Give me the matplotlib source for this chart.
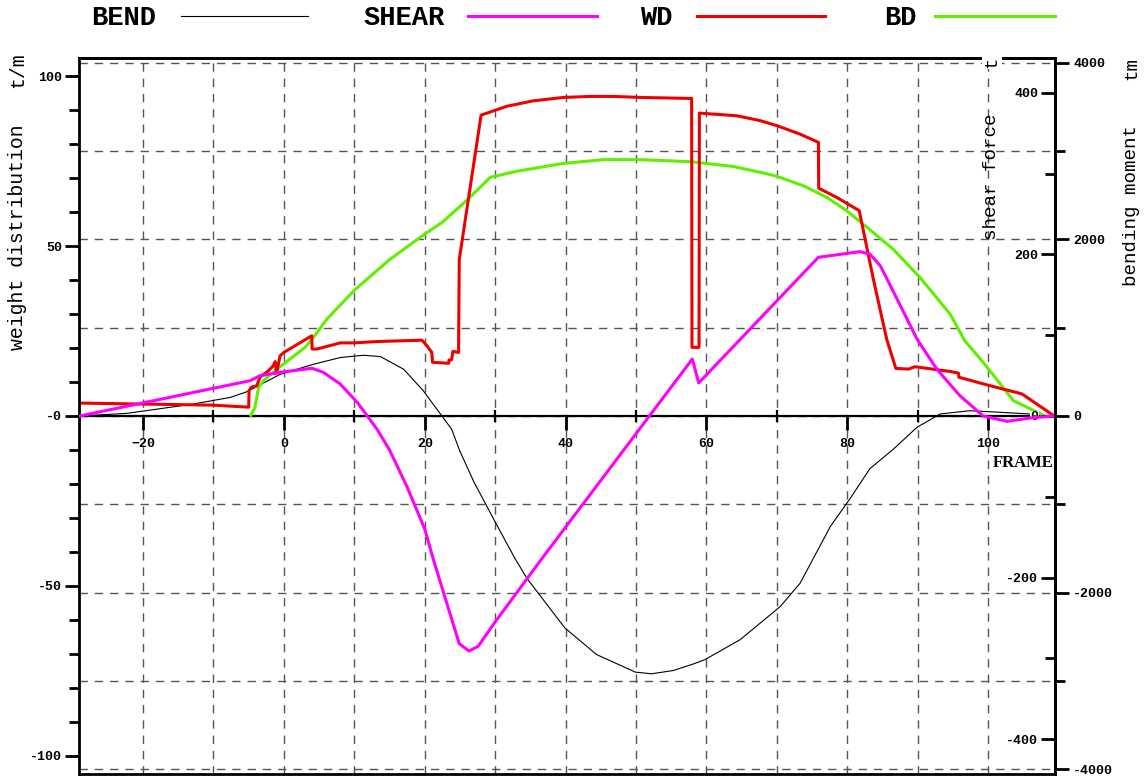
import matplotlib
matplotlib.use('Agg')
import matplotlib.pyplot as plt
from matplotlib.lines import Line2D
from matplotlib.ticker import MultipleLocator, FuncFormatter

# frame positions and values
wd_f = [-29.0, -10.2, -5.0, -4.95, -4.6, -3.85, -3.4, -2.2, -1.5, -1.25,
        -1.05, -0.55, 0.0, 3.95, 4.0, 4.7, 8.0, 9.9, 13.2, 19.6,
        20.3, 21.0, 21.1, 23.4, 23.45, 23.8, 24.0, 24.8, 24.9, 28.0,
        31.65, 35.4, 39.7, 43.5, 46.8, 50.6, 57.9, 57.95, 58.95, 59.0,
        64.3, 67.6, 70.0, 73.3, 75.9, 75.95, 78.5, 81.7, 83.7, 85.6,
        86.9, 88.7, 89.6, 94.6, 95.8, 95.85, 100.3, 104.8, 109.4]
wd_v = [3.8, 3.2, 2.6, 7.5, 8.5, 8.9, 11.4, 13.3, 14.8, 16.0,
        12.5, 17.7, 18.7, 23.6, 19.7, 19.7, 21.5, 21.5, 21.9, 22.3,
        20.7, 18.7, 15.8, 15.5, 16.5, 16.5, 19.0, 18.7, 46.0, 88.5,
        91.1, 92.7, 93.7, 94.0, 94.0, 93.7, 93.4, 20.2, 20.2, 89.1,
        88.3, 86.9, 85.4, 82.9, 80.5, 67.0, 64.3, 60.4, 40.3, 22.6,
        14.0, 13.8, 14.5, 13.1, 12.6, 11.4, 8.9, 6.5, 0.0]

bd_f = [-4.7, -4.1, -3.6, -2.9, -1.0, 0.9, 3.0, 4.0, 6.1, 10.0,
        15.0, 20.0, 22.5, 26.0, 29.3, 33.1, 39.7, 45.4, 50.6, 57.7,
        63.8, 67.6, 70.0, 73.8, 77.1, 79.9, 82.8, 86.5, 90.3, 94.6,
        96.7, 99.3, 103.6, 108.1]
bd_v = [0.2, 2.6, 8.4, 10.4, 13.8, 16.8, 20.2, 22.6, 28.5, 37.0,
        46.0, 53.5, 57.0, 63.5, 70.2, 72.0, 74.3, 75.4, 75.4, 74.8,
        73.4, 71.7, 70.5, 67.7, 64.3, 60.4, 55.5, 49.1, 40.8, 30.0,
        22.1, 15.8, 4.5, 0.0]

sh_f = [-29.0, -4.8, -3.4, -0.5, 4.0, 5.6, 8.0, 10.4, 13.2, 15.0,
        17.5, 20.0, 21.2, 24.9, 26.3, 27.6, 30.0, 36.6, 58.0, 58.9,
        75.9, 81.8, 83.2, 84.7, 86.6, 89.9, 92.7, 96.0, 99.3, 102.7,
        106.0, 109.4]
sh_v = [0.0, 43.7, 49.9, 54.1, 59.1, 54.1, 39.6, 17.0, -16.1, -42.0,
        -88.0, -140.0, -177.0, -282.0, -291.0, -285.0, -255.0, -177.0, 70.6, 40.9,
        196.5, 203.5, 200.6, 186.0, 153.0, 95.4, 58.2, 25.1, 0.0, -6.6,
        -2.5, 0.0]

bm_f = [-29.0, -22.3, -12.9, -7.6, -5.3, -0.5, 4.2, 8.0, 11.3, 13.7,
        17.0, 19.8, 21.7, 23.8, 25.0, 27.0, 30.0, 32.8, 34.5, 39.9,
        44.4, 49.9, 52.2, 55.3, 58.2, 59.8, 64.8, 70.5, 73.3, 77.6,
        80.4, 83.2, 86.6, 89.9, 93.2, 97.4, 101.7, 106.0]
bm_v = [0, 30, 135, 211, 274, 473, 586, 662, 688, 673,
        530, 285, 79, -147, -400, -750, -1200, -1612, -1838, -2401,
        -2702, -2901, -2920, -2883, -2807, -2759, -2533, -2157, -1894, -1251,
        -936, -598, -372, -128, 23, 60, 42, 23]

W, H = 1147, 778
MONO = 'Liberation Mono'
RED = '#ee0000'
MAGENTA = '#ff00ff'
GREEN = '#5ef000'


def fx(px):
    return px / W


def fy(py):
    return 1 - py / H


def style_labels(labels, white=False):
    for lab in labels:
        lab.set_fontfamily(MONO)
        lab.set_fontweight('bold')
        lab.set_fontsize(9.5)
        if white:
            lab.set_bbox(dict(facecolor='white', edgecolor='none', pad=0.3))


fig = plt.figure(figsize=(W / 100, H / 100), dpi=100)
L, R, T, B = fx(79), fx(1055), fy(58), fy(774)
axb = fig.add_axes([L, B, R - L, T - B])
axw = axb.twinx()
axs = axb.twinx()

# bending moment axis (base, holds the grid and the frame axis)
axb.set_xlim(-29.1, 109.5)
axb.set_ylim(-4055, 4055)
axb.yaxis.tick_right()
axb.yaxis.set_label_position('right')
axb.spines['left'].set_visible(False)
axb.spines['right'].set_linewidth(2)
axb.spines['top'].set_linewidth(2)
axb.spines['bottom'].set_position(('data', 0))
axb.spines['bottom'].set_linewidth(1.6)
axb.yaxis.set_major_locator(MultipleLocator(2000))
axb.yaxis.set_minor_locator(MultipleLocator(1000))
axb.xaxis.set_major_locator(MultipleLocator(20))
axb.xaxis.set_minor_locator(MultipleLocator(10))
axb.yaxis.set_major_formatter(FuncFormatter(lambda v, p: '%d' % v))
axb.tick_params(axis='y', which='major', direction='out', length=10, width=2, pad=3)
axb.tick_params(axis='y', which='minor', direction='out', length=7, width=2)
axb.tick_params(axis='x', which='major', direction='out', length=10, width=2, pad=6)
axb.tick_params(axis='x', which='minor', direction='inout', length=8, width=1.6)
style_labels(axb.get_xticklabels() + axb.get_yticklabels())
axb.grid(True, which='both', linestyle=(0, (6, 5)), color='#555555', linewidth=1)
axb.plot(bm_f, bm_v, color='black', linewidth=0.8)

# weight distribution axis on the left
axw.set_ylim(-105.3, 105.3)
axw.yaxis.tick_left()
axw.spines['right'].set_visible(False)
for side in ['left', 'top', 'bottom']:
    axw.spines[side].set_linewidth(2)
axw.yaxis.set_major_locator(MultipleLocator(50))
axw.yaxis.set_minor_locator(MultipleLocator(10))
axw.yaxis.set_major_formatter(FuncFormatter(lambda v, p: '-0' if v == 0 else '%d' % v))
axw.tick_params(axis='y', which='major', direction='out', length=10, width=2, pad=2)
axw.tick_params(axis='y', which='minor', direction='out', length=7, width=2)
style_labels(axw.get_yticklabels())
axw.plot(bd_f, bd_v, color=GREEN, linewidth=2.2)
axw.plot(wd_f, wd_v, color=RED, linewidth=2.2)

# shear force axis, ticks on the inside of the right border
axs.set_ylim(-443.3, 443.3)
axs.yaxis.tick_left()
for side in ['right', 'top', 'bottom']:
    axs.spines[side].set_visible(False)
axs.spines['left'].set_position(('axes', 1.0))
axs.spines['left'].set_linewidth(2)
axs.yaxis.set_major_locator(MultipleLocator(200))
axs.yaxis.set_minor_locator(MultipleLocator(100))
axs.yaxis.set_major_formatter(FuncFormatter(lambda v, p: '%d' % v))
axs.tick_params(axis='y', which='major', direction='out', length=10, width=2, pad=2)
axs.tick_params(axis='y', which='minor', direction='out', length=7, width=2)
style_labels(axs.get_yticklabels(), white=True)
axs.plot(sh_f, sh_v, color=MAGENTA, linewidth=2.2)

# axis titles
fig.text(fx(18), fy(237), 'weight distribution', rotation=90, ha='center', va='center',
         fontfamily=MONO, fontsize=14.3)
fig.text(fx(18), fy(70), 't/m', rotation=90, ha='center', va='center',
         fontfamily=MONO, fontsize=14.3)
fig.text(fx(992), fy(177), 'shear force', rotation=90, ha='center', va='center',
         fontfamily=MONO, fontsize=13.8)
fig.text(fx(992), fy(62), 't', rotation=90, ha='center', va='center',
         fontfamily=MONO, fontsize=13.8,
         bbox=dict(facecolor='white', edgecolor='none', pad=1))
fig.text(fx(1132), fy(205), 'bending moment', rotation=90, ha='center', va='center',
         fontfamily=MONO, fontsize=13.8)
fig.text(fx(1132), fy(68), 'tm', rotation=90, ha='center', va='center',
         fontfamily=MONO, fontsize=13.8)
fig.text(fx(1054), fy(463), 'FRAME', ha='right', va='center',
         fontfamily='Liberation Serif', fontweight='bold', fontsize=12)

# legend row above the plot
legend_items = [('BEND', 91, 181, 308, 'black', 0.8),
                ('SHEAR', 364, 468, 597, MAGENTA, 2.2),
                ('WD', 640, 697, 825, RED, 2.2),
                ('BD', 884, 935, 1055, GREEN, 2.2)]
for name, tx, x0, x1, col, lw in legend_items:
    fig.text(fx(tx), fy(18), name, ha='left', va='center',
             fontfamily=MONO, fontweight='bold', fontsize=19.5)
    fig.add_artist(Line2D([fx(x0), fx(x1)], [fy(16), fy(16)], color=col, linewidth=lw))

fig.savefig('out.png', dpi=100)
